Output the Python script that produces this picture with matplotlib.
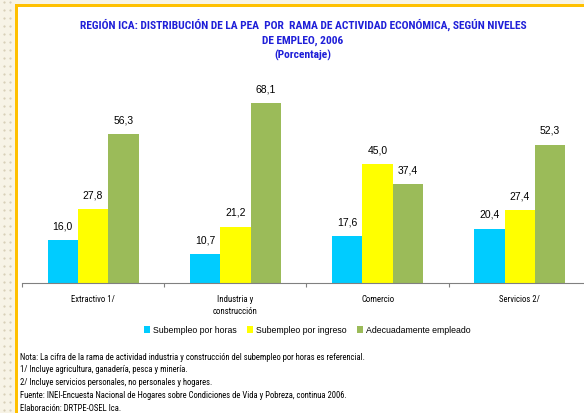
import numpy as np
import matplotlib
matplotlib.use("Agg")
from matplotlib import pyplot as plt
from matplotlib.patches import Rectangle

categories = ["Extractivo 1/", "Industria y\nconstrucción", "Comercio", "Servicios 2/"]
series_names = ["Subempleo por horas", "Subempleo por ingreso", "Adecuadamente empleado"]
sub_horas = [16.0, 10.7, 17.6, 20.4]
sub_ingreso = [27.8, 21.2, 45.0, 27.4]
adecuado = [56.3, 68.1, 37.4, 52.3]
colors = ["#00CCFF", "#FFFF00", "#9BBB59"]

title_lines = "REGIÓN ICA: DISTRIBUCIÓN DE LA PEA  POR  RAMA DE ACTIVIDAD ECONÓMICA, SEGÚN NIVELES\nDE EMPLEO, 2006\n(Porcentaje)"
notes = [
    "Nota: La cifra de la rama de actividad industria y construcción del subempleo por horas es referencial.",
    "1/ Incluye agricultura, ganadería, pesca y minería.",
    "2/ Incluye servicios personales, no personales y hogares.",
    "Fuente: INEI-Encuesta Nacional de Hogares sobre Condiciones de Vida y Pobreza, continua 2006.",
    "Elaboración: DRTPE-OSEL Ica.",
]

plt.rcParams['font.family'] = ['Liberation Sans', 'DejaVu Sans']
narrow = ['Roboto Condensed', 'Liberation Sans', 'DejaVu Sans']

W, H = 584, 414
fig = plt.figure(figsize=(W / 100, H / 100), dpi=100)
fig.patch.set_facecolor("white")
renderer = fig.canvas.get_renderer()


def fit_width(txt, target_px):
    # shrink or grow a text so that its widest line is target_px wide
    w = txt.get_window_extent(renderer).width
    txt.set_fontsize(txt.get_fontsize() * target_px / w)


bg = fig.add_axes([0, 0, 1, 1])
bg.set_xlim(0, W)
bg.set_ylim(H, 0)
bg.axis("off")
bg.add_patch(Rectangle((0, 0), 15, H, color="#F7F3E6", lw=0))
bg.add_patch(Rectangle((0, 0), W, 5, color="#F7F3E6", lw=0))
for yy in range(3, H, 8):
    for xx in (4, 10):
        bg.plot(xx, yy, marker="s", ms=0.6, color="#D8D0B8", lw=0)
bg.add_patch(Rectangle((15, 5), 3, H - 5, color="#FFC000", lw=0))
bg.add_patch(Rectangle((15, 5), W - 15, 2.5, color="#FFC000", lw=0))

ax = fig.add_axes([22 / W, (H - 283.5) / H, 569 / W, 210.5 / H])
ax.set_facecolor("none")
x = np.arange(len(categories))
bw = 0.213
for i, (vals, col) in enumerate(zip([sub_horas, sub_ingreso, adecuado], colors)):
    bars = ax.bar(x + (i - 1) * bw, vals, bw, color=col, label=series_names[i])
    for b, v in zip(bars, vals):
        ax.text(b.get_x() + b.get_width() / 2, v + 3.8, f"{v:.1f}".replace(".", ","),
                ha="center", va="bottom", fontsize=7.5)

ax.set_xlim(-0.5, len(categories) - 0.5)
ax.set_ylim(0, 80)
for s in ["top", "right", "left"]:
    ax.spines[s].set_visible(False)
ax.spines["bottom"].set_color("#808080")
ax.set_yticks([])
ax.set_xticks(np.arange(len(categories) + 1) - 0.5)
ax.set_xticklabels([])
ax.tick_params(axis="x", length=3, color="#808080", direction="out")
cat_txt = []
for xi, lab in zip(x, categories):
    cat_txt.append(ax.text(xi, -4.5, lab, ha="center", va="top", fontsize=7,
                           linespacing=1.45, family=narrow))
fit_width(cat_txt[0], 44)
for t in cat_txt[1:]:
    t.set_fontsize(cat_txt[0].get_fontsize())

title = fig.text(303 / W, 1 - 19 / H, title_lines, ha="center", va="top", fontsize=8,
                 fontweight="bold", color="#1F1FD8", linespacing=1.5, family=narrow)
fit_width(title, 447)

fig.legend(loc="center", bbox_to_anchor=(307 / W, 1 - 331 / H), ncol=3,
           frameon=False, handlelength=0.7, handleheight=0.7,
           handletextpad=0.3, columnspacing=1.2, prop={"size": 6.3})

note_txt = []
for k, line in enumerate(notes):
    note_txt.append(fig.text(20 / W, 1 - (357 + 13 * k) / H, line, ha="left",
                             va="center", fontsize=6.5, family=narrow))
fit_width(note_txt[0], 347)
for t in note_txt[1:]:
    t.set_fontsize(note_txt[0].get_fontsize())

fig.savefig("out.png", dpi=100)
